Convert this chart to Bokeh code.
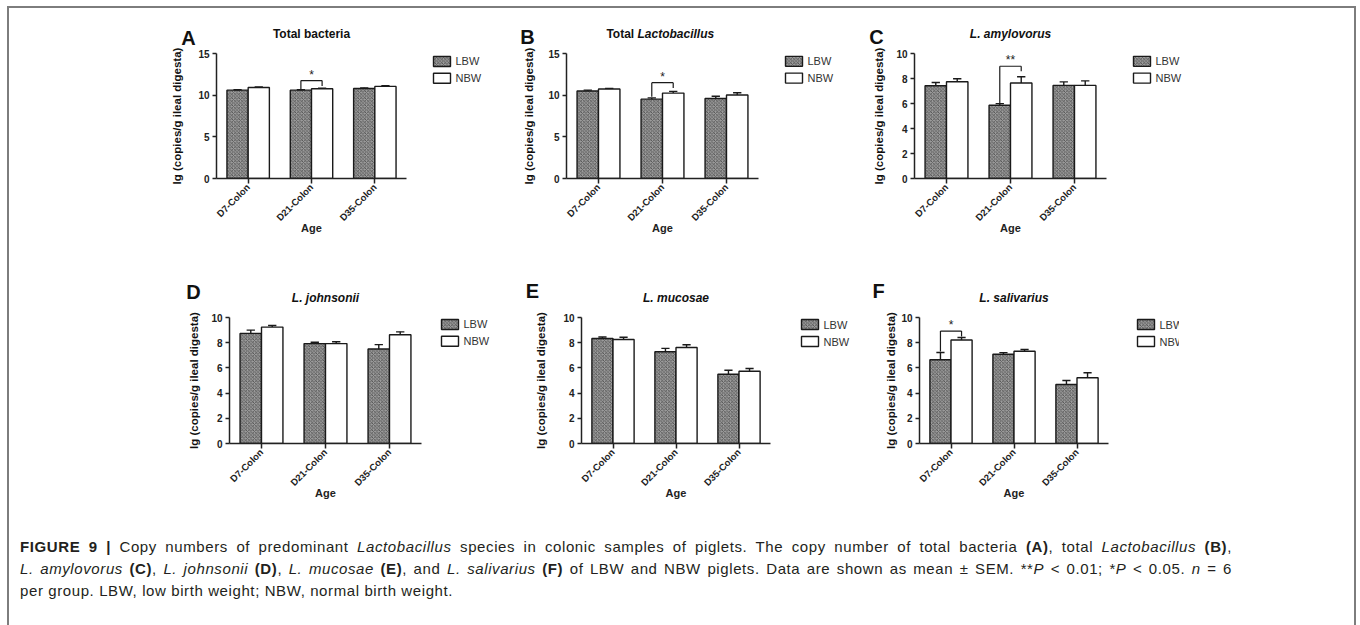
import math
from bokeh.plotting import figure
from bokeh.models import (ColumnDataSource, FactorRange, Range1d, Div, Spacer, FixedTicker)
from bokeh.layouts import row, column
from bokeh.transform import dodge
from bokeh.core.properties import value
from bokeh.embed import file_html
from bokeh.resources import INLINE

# ---------------- data ----------------
categories = ["D7-Colon", "D21-Colon", "D35-Colon"]
groups = ["LBW", "NBW"]
x_axis_label = "Age"
y_axis_label = "lg (copies/g ileal digesta)"

# A  Total bacteria
total_bacteria_lbw = [10.60, 10.60, 10.80]
total_bacteria_lbw_sem = [0.05, 0.05, 0.08]
total_bacteria_nbw = [10.92, 10.77, 11.05]
total_bacteria_nbw_sem = [0.07, 0.07, 0.10]
# B  Total Lactobacillus
total_lacto_lbw = [10.50, 9.52, 9.60]
total_lacto_lbw_sem = [0.10, 0.15, 0.27]
total_lacto_nbw = [10.74, 10.25, 10.02]
total_lacto_nbw_sem = [0.08, 0.20, 0.27]
# C  L. amylovorus
amylovorus_lbw = [7.42, 5.86, 7.45]
amylovorus_lbw_sem = [0.26, 0.13, 0.28]
amylovorus_nbw = [7.74, 7.64, 7.45]
amylovorus_nbw_sem = [0.24, 0.50, 0.36]
# D  L. johnsonii
johnsonii_lbw = [8.74, 7.93, 7.50]
johnsonii_lbw_sem = [0.26, 0.10, 0.35]
johnsonii_nbw = [9.24, 7.93, 8.63]
johnsonii_nbw_sem = [0.13, 0.14, 0.23]
# E  L. mucosae
mucosae_lbw = [8.33, 7.28, 5.50]
mucosae_lbw_sem = [0.12, 0.27, 0.31]
mucosae_nbw = [8.25, 7.62, 5.73]
mucosae_nbw_sem = [0.18, 0.22, 0.22]
# F  L. salivarius
salivarius_lbw = [6.65, 7.08, 4.68]
salivarius_lbw_sem = [0.57, 0.13, 0.32]
salivarius_nbw = [8.22, 7.32, 5.22]
salivarius_nbw_sem = [0.19, 0.14, 0.40]

# significance brackets
sig_panels = ["A", "B", "C", "F"]
sig_categories = ["D21-Colon", "D21-Colon", "D21-Colon", "D7-Colon"]
sig_labels = ["*", "*", "**", "*"]
sig_left_bottom = [10.75, 9.80, 6.05, 7.30]
sig_top = [11.75, 11.50, 8.98, 8.92]
sig_right_bottom = [11.10, 10.85, 8.58, 8.50]

# ---------------- style / layout ----------------
FONT = "Liberation Sans"
INK = "#1a1a1a"
BORDER = "#7d7d7d"
LBW_STYLE = dict(fill_color="#9c9c9c", hatch_pattern="diagonal_cross", hatch_color="#4a4a4a",
                 hatch_scale=3.5, hatch_weight=0.8, line_color=INK, line_width=1.4)
NBW_STYLE = dict(fill_color="white", line_color=INK, line_width=1.4)

panels = [
    dict(key="A", fig=(9, 8, 503, 262), frame=(216, 52, 190, 126), y=(15, 5),
         letter=(188, 36), title=[("Total bacteria", "bold", "center", None)],
         ylab_x=176, legend=(433, 60)),
    dict(key="B", fig=(512, 8, 350, 262), frame=(566, 53, 192, 127), y=(15, 5),
         letter=(527, 36), title=[("Total ", "bold", "right", 637), ("Lactobacillus", "bold italic", "left", 637)],
         ylab_x=528, legend=(785, 61)),
    dict(key="C", fig=(862, 8, 492, 262), frame=(914, 53, 192, 127), y=(10, 2),
         letter=(876, 36), title=[("L. amylovorus", "bold italic", "center", None)],
         ylab_x=878, legend=(1133, 61)),
    dict(key="D", fig=(9, 270, 511, 255), frame=(229, 316, 192, 127), y=(10, 2),
         letter=(193, 290), title=[("L. johnsonii", "bold italic", "center", None)],
         ylab_x=193, legend=(441, 323)),
    dict(key="E", fig=(520, 270, 348, 255), frame=(581, 317, 189, 126), y=(10, 2),
         letter=(532, 290), title=[("L. mucosae", "bold italic", "center", None)],
         ylab_x=540, legend=(801, 324)),
    dict(key="F", fig=(868, 270, 311, 255), frame=(919, 317, 189, 126), y=(10, 2),
         letter=(878, 290), title=[("L. salivarius", "bold italic", "center", None)],
         ylab_x=890, legend=(1137, 324)),
]

series = {
    "A": (total_bacteria_lbw, total_bacteria_lbw_sem, total_bacteria_nbw, total_bacteria_nbw_sem),
    "B": (total_lacto_lbw, total_lacto_lbw_sem, total_lacto_nbw, total_lacto_nbw_sem),
    "C": (amylovorus_lbw, amylovorus_lbw_sem, amylovorus_nbw, amylovorus_nbw_sem),
    "D": (johnsonii_lbw, johnsonii_lbw_sem, johnsonii_nbw, johnsonii_nbw_sem),
    "E": (mucosae_lbw, mucosae_lbw_sem, mucosae_nbw, mucosae_nbw_sem),
    "F": (salivarius_lbw, salivarius_lbw_sem, salivarius_nbw, salivarius_nbw_sem),
}

OFF = 0.1675
BW = 0.335
CAP = 0.065


def build_panel(cfg):
    fl, ft, fw, fh = cfg["fig"]
    xl, xt, xw, xh = cfg["frame"]
    ymax, ystep = cfg["y"]
    fb = xt + xh
    ncat = len(categories)
    lbw, lbw_sem, nbw, nbw_sem = series[cfg["key"]]
    p = figure(x_range=FactorRange(*categories), y_range=Range1d(0, ymax),
               width=fw, height=fh,
               min_border_left=xl - fl, min_border_right=fl + fw - (xl + xw),
               min_border_top=xt - ft, min_border_bottom=ft + fh - (xt + xh),
               output_backend="svg", toolbar_location=None)
    p.outline_line_color = None
    p.xgrid.visible = False
    p.ygrid.visible = False
    p.background_fill_color = "white"
    p.border_fill_color = "white"

    src = ColumnDataSource(dict(
        cat=categories, lbw=lbw, nbw=nbw,
        lbw_top=[v + e for v, e in zip(lbw, lbw_sem)],
        nbw_top=[v + e for v, e in zip(nbw, nbw_sem)]))

    p.vbar(x=dodge("cat", -OFF, range=p.x_range), top="lbw", width=BW, source=src, **LBW_STYLE)
    p.vbar(x=dodge("cat", OFF, range=p.x_range), top="nbw", width=BW, source=src, **NBW_STYLE)
    for o, col in ((-OFF, "lbw"), (OFF, "nbw")):
        p.segment(x0=dodge("cat", o, range=p.x_range), x1=dodge("cat", o, range=p.x_range),
                  y0=col, y1=col + "_top", source=src, line_color=INK, line_width=1.4)
        p.segment(x0=dodge("cat", o - CAP, range=p.x_range), x1=dodge("cat", o + CAP, range=p.x_range),
                  y0=col + "_top", y1=col + "_top", source=src, line_color=INK, line_width=1.4)

    # significance
    if cfg["key"] in sig_panels:
        i = sig_panels.index(cfg["key"])
        s = ColumnDataSource(dict(cat=[sig_categories[i]], lb=[sig_left_bottom[i]], top=[sig_top[i]],
                                  rb=[sig_right_bottom[i]], lab=[sig_labels[i]]))
        p.segment(x0=dodge("cat", -OFF, range=p.x_range), x1=dodge("cat", -OFF, range=p.x_range),
                  y0="lb", y1="top", source=s, line_color=INK, line_width=1.2)
        p.segment(x0=dodge("cat", -OFF, range=p.x_range), x1=dodge("cat", OFF, range=p.x_range),
                  y0="top", y1="top", source=s, line_color=INK, line_width=1.2)
        p.segment(x0=dodge("cat", OFF, range=p.x_range), x1=dodge("cat", OFF, range=p.x_range),
                  y0="rb", y1="top", source=s, line_color=INK, line_width=1.2)
        p.text(x="cat", y="top", text="lab", source=s, text_align="center", text_baseline="bottom",
               y_offset=1, text_font=value(FONT), text_font_size="12px", text_color=INK)

    # axes
    for ax in (p.xaxis[0], p.yaxis[0]):
        ax.axis_line_color = "#222222"
        ax.axis_line_width = 1.5
        ax.major_tick_line_color = "#222222"
        ax.major_tick_line_width = 1.5
        ax.major_tick_in = 0
        ax.minor_tick_line_color = None
        ax.major_label_text_font = FONT
        ax.major_label_text_font_style = "bold"
        ax.major_label_text_color = "#222222"
    p.yaxis.major_label_text_font_size = "10px"
    p.xaxis.major_label_text_font_size = "9.5px"
    p.yaxis.ticker = FixedTicker(ticks=list(range(0, ymax + 1, ystep)))
    p.yaxis.major_tick_out = 4
    p.yaxis.major_label_standoff = 3
    p.xaxis.major_tick_out = 5
    p.xaxis.major_label_orientation = math.pi / 4
    p.xaxis.major_label_standoff = 2
    p.xaxis.axis_label = x_axis_label
    p.xaxis.axis_label_text_font = FONT
    p.xaxis.axis_label_text_font_style = "bold"
    p.xaxis.axis_label_text_font_size = "11px"
    p.xaxis.axis_label_text_color = "#222222"
    p.xaxis.axis_label_standoff = -8

    # page position -> plot coordinates (synthetic x on the factor range)
    def dx(px):
        return (px - xl) / xw * ncat

    def dy(py):
        return (fb - py) / xh * ymax

    def add_text(px, py, text, size, style, align="center", angle=0.0, color="#111111"):
        p.text(x=[dx(px)], y=[dy(py)], text=[text], angle=angle, level="overlay",
               text_font=value(FONT), text_font_size=size, text_font_style=style,
               text_align=align, text_baseline="middle", text_color=color)

    add_text(cfg["letter"][0], cfg["letter"][1], cfg["key"], "20px", "bold")
    for text, style, align, px in cfg["title"]:
        add_text(px if px is not None else xl + xw / 2, xt - 20, text, "12px", style, align)
    add_text(cfg["ylab_x"], xt + xh / 2, y_axis_label, "11.5px", "bold", angle=math.pi / 2)

    # legend (drawn outside the frame)
    gx, gy = cfg["legend"]
    for k, (grp, sty) in enumerate(zip(groups, (LBW_STYLE, NBW_STYLE))):
        cy = gy + 17 * k
        p.rect(x=[dx(gx + 8.5)], y=[dy(cy)], width=17, height=10, width_units="screen",
               height_units="screen", level="overlay", **sty)
        add_text(gx + 22, cy, grp, "11px", "normal", align="left", color="#333333")
    return p


figs = {cfg["key"]: build_panel(cfg) for cfg in panels}


def bar(w, h):
    return Spacer(width=w, height=h, margin=0, styles={"background-color": BORDER})


line_css = "text-align:justify; text-align-last:justify; width:1212px;"
caption_html = (
    '<div style="padding:11px 0 0 11px; font-family:\'Liberation Sans\', Arial, sans-serif; '
    'font-size:15px; letter-spacing:0.6px; line-height:22px; color:#231f20; white-space:nowrap;">'
    f'<div style="{line_css}"><b>FIGURE 9 |</b> Copy numbers of predominant <i>Lactobacillus</i> species in colonic samples of piglets. '
    'The copy number of total bacteria <b>(A)</b>, total <i>Lactobacillus</i> <b>(B)</b>,</div>'
    f'<div style="{line_css}"><i>L. amylovorus</i> <b>(C)</b>, <i>L. johnsonii</i> <b>(D)</b>, <i>L. mucosae</i> <b>(E)</b>, and '
    '<i>L. salivarius</i> <b>(F)</b> of LBW and NBW piglets. Data are shown as mean &plusmn; SEM. '
    '**<i>P</i> &lt; 0.01; *<i>P</i> &lt; 0.05. <i>n</i> = 6</div>'
    '<div>per group. LBW, low birth weight; NBW, normal birth weight.</div></div>'
)
caption = Div(text=caption_html, width=1300, height=100, margin=0)

layout = row(
    Spacer(width=7, height=619),
    column(
        Spacer(width=1349, height=6),
        bar(1349, 2),
        row(bar(2, 262), figs["A"], figs["B"], figs["C"], bar(2, 262)),
        row(bar(2, 255), figs["D"], figs["E"], figs["F"], Spacer(width=175, height=255), bar(2, 255)),
        row(bar(2, 100), caption, Spacer(width=45, height=100), bar(2, 100)),
    ),
)

open("out.html", "w").write(file_html(layout, INLINE))
